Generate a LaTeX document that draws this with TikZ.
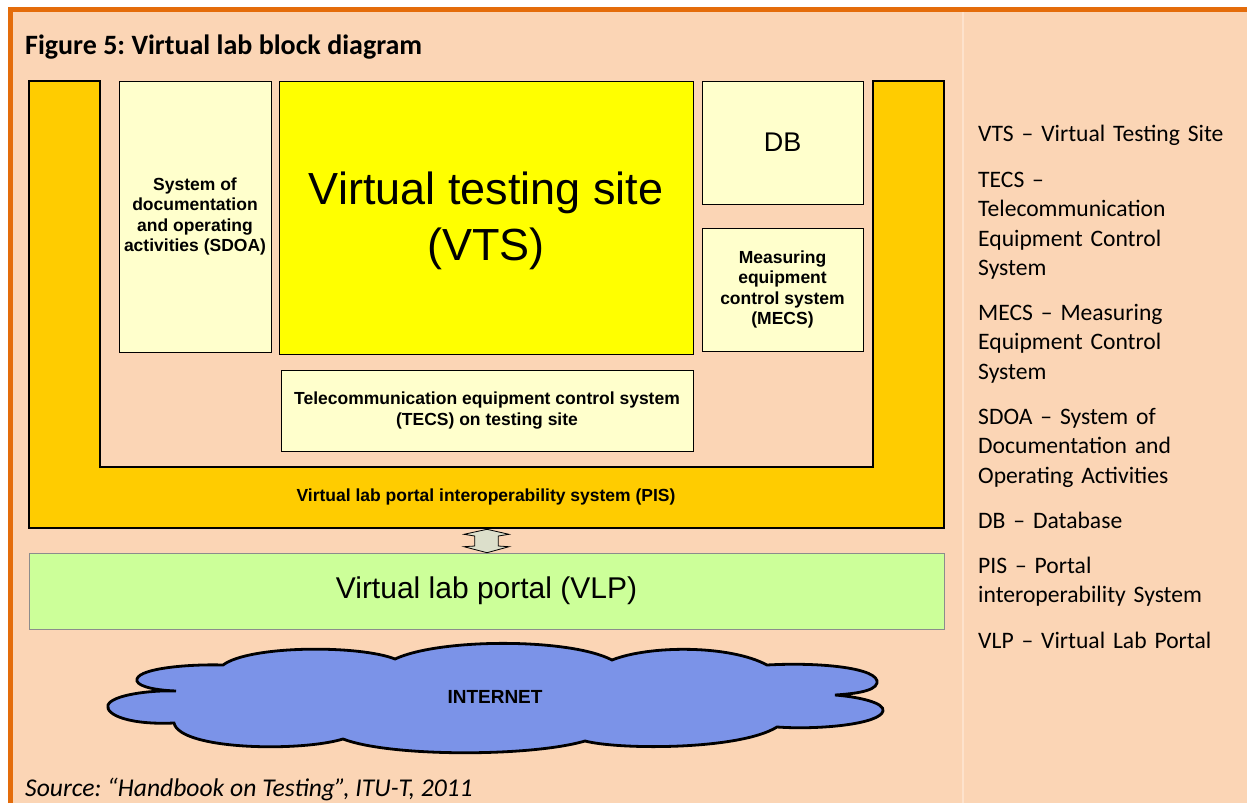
\documentclass[tikz,border=0pt]{standalone}
\usepackage{fontspec}
\setmainfont{Carlito}
\newfontfamily\arialfont{Liberation Sans}
\usetikzlibrary{positioning}
\frenchspacing
\definecolor{peach}{HTML}{FBD5B5}
\definecolor{framebrown}{HTML}{E46C0A}
\definecolor{pisgold}{HTML}{FFCC00}
\definecolor{paleyellow}{HTML}{FFFFCC}
\definecolor{vtsyellow}{HTML}{FFFF00}
\definecolor{vlpgreen}{HTML}{CCFF99}
\definecolor{netblue}{HTML}{7B93E8}
\definecolor{arrowgrey}{HTML}{DCDFCB}
\definecolor{dividerpeach}{HTML}{FDE2CC}
\tikzset{
  blockbox/.style={draw=black, line width=0.8pt, fill=paleyellow, inner sep=0pt,
    align=center, font=\arialfont\bfseries\fontsize{17.5}{20.5}\selectfont},
  legendtext/.style={anchor=base west, align=left, text width=265pt, inner sep=0pt,
    font=\fontsize{23.6}{29.5}\selectfont}
}
\begin{document}
\begin{tikzpicture}[x=1pt,y=-1pt]
  \useasboundingbox (0,0) rectangle (1247,803);
  \fill[white] (0,0) rectangle (1247,803);
  \fill[peach] (10,9) rectangle (1247,803);
  \draw[dividerpeach, line width=1.2pt] (963,12) -- (963,803);
  \draw[framebrown, line width=4.8pt] (10.4,803) -- (10.4,9.4) -- (1247,9.4);
  \node[anchor=base west, inner sep=0pt, font=\bfseries\fontsize{28}{32}\selectfont] (title) at (25,54) {Figure 5: Virtual lab block diagram};

  \draw[fill=pisgold, line width=2.6pt] (29,81) -- (100,81) -- (100,467) -- (873,467) -- (873,81) -- (944,81) -- (944,528) -- (29,528) -- cycle;
  \node[font=\arialfont\bfseries\fontsize{17.5}{20.5}\selectfont] (pis) at (486,497) {Virtual lab portal interoperability system (PIS)};

  \node[blockbox, minimum width=152pt, minimum height=271pt] (sdoa) at (195,216.5) {System of\\documentation\\and operating\\activities (SDOA)};
  \node[blockbox, fill=vtsyellow, minimum width=414pt, minimum height=273pt] (vts) at (486,217.5) {};
  \node[align=center, inner sep=0pt, font=\arialfont\fontsize{45}{56}\selectfont] (vtstext) at ([yshift=-3pt]vts.center) {Virtual testing site\\(VTS)};
  \node[blockbox, minimum width=161pt, minimum height=123pt, font=\arialfont\fontsize{27}{32}\selectfont] (db) at (782.5,142.5) {DB};
  \node[blockbox, minimum width=161pt, minimum height=123pt] (mecs) at (782.5,289.5) {Measuring\\equipment\\control system\\(MECS)};
  \node[blockbox, minimum width=412pt, minimum height=81pt] (tecs) at (487,410.5) {Telecommunication equipment control system\\(TECS) on testing site};

  \node[blockbox, draw=black!45, fill=vlpgreen, minimum width=915pt, minimum height=76pt, font=\arialfont\fontsize{30}{36}\selectfont] (vlp) at (486.5,591) {Virtual lab portal (VLP)};

  \draw[fill=arrowgrey, line width=0.8pt] (487,529.3) -- (509,534.3) -- (498.3,536) -- (498.3,546) -- (509,546.7) -- (487,552.7) -- (464,546.7) -- (474.7,546) -- (474.7,536) -- (464,534.3) -- cycle;

  \draw[fill=netblue, line width=2.8pt] (223,665) .. controls (250,645) and (360,645) .. (395,659)
    .. controls (440,638) and (570,638) .. (612,660)
    .. controls (650,645) and (730,645) .. (767,665)
    .. controls (820,662) and (880,668) .. (877,683)
    .. controls (875,692) and (850,694) .. (835,695)
    .. controls (860,697) and (885,703) .. (883,711)
    .. controls (880,724) and (820,730) .. (777,727)
    .. controls (740,750) and (620,750) .. (585,741)
    .. controls (530,757) and (390,757) .. (343,739)
    .. controls (300,752) and (180,750) .. (174,723)
    .. controls (130,725) and (105,715) .. (108,705)
    .. controls (112,695) and (150,690) .. (176,691)
    .. controls (150,690) and (135,685) .. (137,679)
    .. controls (140,668) and (190,664) .. (223,665) -- cycle;
  \node[font=\arialfont\bfseries\fontsize{19}{23}\selectfont] (internet) at (495,697) {INTERNET};

  \node[legendtext] (legvts) at (978,141) {VTS – Virtual Testing Site};
  \node[legendtext] (legtecs) at (978,187) {TECS –\\Telecommunication\\Equipment Control\\System};
  \node[legendtext] (legmecs) at (978,320) {MECS – Measuring\\Equipment Control\\System};
  \node[legendtext] (legsdoa) at (978,424) {SDOA – System of\\Documentation and\\Operating Activities};
  \node[legendtext] (legdb) at (978,528) {DB – Database};
  \node[legendtext] (legpis) at (978,573) {PIS – Portal\\interoperability System};
  \node[legendtext] (legvlp) at (978,648) {VLP – Virtual Lab Portal};

  \node[anchor=base west, inner sep=0pt, font=\itshape\fontsize{25.6}{29}\selectfont] (source) at (25,796) {Source: “Handbook on Testing”, ITU-T, 2011};
\end{tikzpicture}
\end{document}
